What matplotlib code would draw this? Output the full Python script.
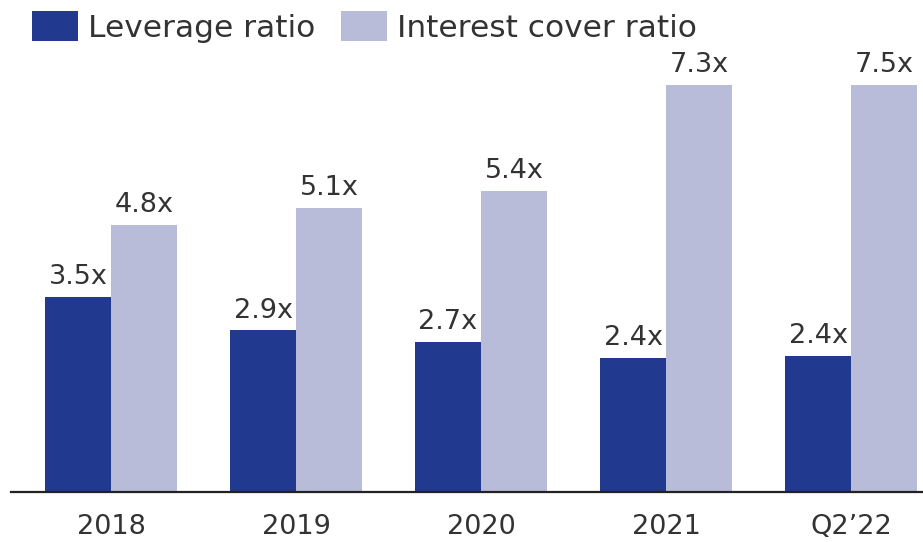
import matplotlib
matplotlib.use("Agg")
import matplotlib.pyplot as plt
import numpy as np

# data
periods = ["2018", "2019", "2020", "2021", "Q2\u201922"]
leverage = [3.5, 2.9, 2.7, 2.4, 2.45]
interest_cover = [4.8, 5.1, 5.4, 7.3, 7.3]   # drawn heights
leverage_labels = ["3.5x", "2.9x", "2.7x", "2.4x", "2.4x"]
cover_labels = ["4.8x", "5.1x", "5.4x", "7.3x", "7.5x"]

dark = "#213a8f"
light = "#b8bcd9"
txt = "#333333"

plt.rcParams["font.family"] = ["DejaVu Sans"]

W, H = 923, 542
fig = plt.figure(figsize=(W / 100, H / 100), dpi=100)
ax = fig.add_axes([11 / W, 50 / H, 912 / W, 492 / H])

x = np.arange(len(periods))
w = 66 / 185
b1 = ax.bar(x - w / 2, leverage, w, color=dark, label="Leverage ratio")
b2 = ax.bar(x + w / 2, interest_cover, w, color=light, label="Interest cover ratio")

for bars, labs in ((b1, leverage_labels), (b2, cover_labels)):
    for r, lab in zip(bars, labs):
        ax.annotate(lab, (r.get_x() + r.get_width() / 2, r.get_height()),
                    xytext=(0, 5), textcoords="offset points",
                    ha="center", va="bottom", fontsize=19.5, color=txt)

ax.set_xlim(-100 / 185, 812 / 185)
ax.set_ylim(0, 492 / 55.7)
ax.set_xticks(x)
ax.set_xticklabels(periods, fontsize=19.5, color=txt)
ax.tick_params(axis="x", length=0, pad=16)
ax.set_yticks([])
for s in ("top", "right", "left"):
    ax.spines[s].set_visible(False)
ax.spines["bottom"].set_linewidth(1.6)
ax.spines["bottom"].set_color("#222222")

fig.legend(loc="upper left", bbox_to_anchor=(32 / W, 1.0 - 11 / H), ncol=2, frameon=False,
           fontsize=22.5, handlelength=1.47, handleheight=1.09, handletextpad=0.32,
           columnspacing=0.83, labelcolor=txt, borderaxespad=0, borderpad=0)

fig.savefig("out.png", dpi=100)
